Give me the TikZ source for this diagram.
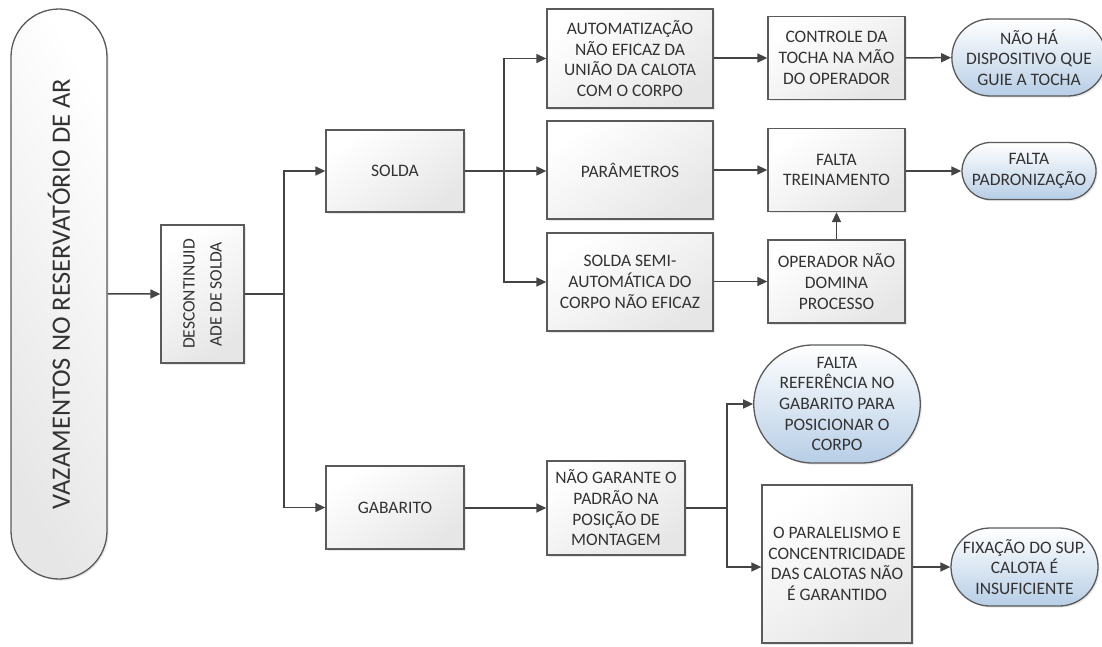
\documentclass[tikz,border=0pt]{standalone}
\usepackage{fontspec}
\setmainfont{Carlito}
\usetikzlibrary{arrows.meta,shapes.misc,shadows}

\definecolor{txt}{HTML}{333333}
\definecolor{edge}{HTML}{5A5A5A}
\definecolor{boxlo}{HTML}{E6E6E6}
\definecolor{bluelo}{HTML}{B7CEE6}
\definecolor{wire}{HTML}{444444}

\tikzset{
  base/.style={draw=edge, line width=1.3pt, inner sep=2pt, align=center,
    text=txt, font=\fontsize{17.5}{20.7}\selectfont,
    drop shadow={shadow xshift=1.6pt, shadow yshift=-1.6pt, opacity=0.18}},
  box/.style={base, rectangle, top color=white, bottom color=boxlo, shading angle=35},
  term/.style={base, rounded rectangle, top color=white, bottom color=bluelo},
  greyterm/.style={base, rounded rectangle, top color=white, bottom color=boxlo, shading angle=-60},
  arr/.style={draw=wire, line width=1.5pt, -{Triangle[length=10pt,width=9pt]}},
  wire/.style={draw=wire, line width=1.5pt}
}

\begin{document}
\begin{tikzpicture}[x=1pt,y=1pt]
\path[use as bounding box] (0,0) rectangle (1102,-646);

% root problem (vertical terminator)
\node[greyterm, rotate=90, minimum width=574pt, minimum height=96pt,
      font=\fontsize{26.5}{30}\selectfont] (vaz) at (59,-294)
  {VAZAMENTOS NO RESERVATÓRIO DE AR};

% first level
\node[box, rotate=90, minimum width=138pt, minimum height=83pt,
      font=\fontsize{17.5}{27}\selectfont] (desc) at (202.5,-294)
  {DESCONTINUID\\ADE DE SOLDA};

% second level
\node[box, minimum width=138pt, minimum height=82pt] (solda) at (395,-171) {SOLDA};
\node[box, minimum width=138pt, minimum height=83pt] (gab) at (395,-507.5) {GABARITO};

% welding branch
\node[box, minimum width=166pt, minimum height=99pt] (auto) at (630,-58.5)
  {AUTOMATIZAÇÃO\\NÃO EFICAZ DA\\UNIÃO DA CALOTA\\COM O CORPO};
\node[box, minimum width=166pt, minimum height=98pt] (param) at (630,-170)
  {PARÂMETROS};
\node[box, minimum width=166pt, minimum height=98pt] (semi) at (630,-282)
  {SOLDA SEMI-\\AUTOMÁTICA DO\\CORPO NÃO EFICAZ};

\node[box, minimum width=137pt, minimum height=83pt] (tocha) at (836.5,-58)
  {CONTROLE DA\\TOCHA NA MÃO\\DO OPERADOR};
\node[box, minimum width=137pt, minimum height=83pt] (trein) at (836.5,-170)
  {FALTA\\TREINAMENTO};
\node[box, minimum width=137pt, minimum height=83pt] (oper) at (836.5,-281.5)
  {OPERADOR NÃO\\DOMINA\\PROCESSO};

\node[term, minimum width=138pt, minimum height=77pt] (disp) at (1029,-57.5)
  {NÃO HÁ\\DISPOSITIVO QUE\\GUIE A TOCHA};
\node[term, minimum width=138pt, minimum height=57pt] (padr) at (1029,-171)
  {FALTA\\PADRONIZAÇÃO};

% jig branch
\node[box, minimum width=138pt, minimum height=94pt] (garante) at (616,-508)
  {NÃO GARANTE O\\PADRÃO NA\\POSIÇÃO DE\\MONTAGEM};
\node[term, minimum width=140pt, minimum height=118pt] (refer) at (837,-404)
  {FALTA\\REFERÊNCIA NO\\GABARITO PARA\\POSICIONAR O\\CORPO};
\node[box, minimum width=150pt, minimum height=158pt] (paral) at (837,-564)
  {O PARALELISMO E\\CONCENTRICIDADE\\DAS CALOTAS NÃO\\É GARANTIDO};
\node[term, minimum width=147pt, minimum height=78pt, inner sep=0pt] (fix) at (1024.5,-567)
  {FIXAÇÃO DO SUP.\\CALOTA É\\INSUFICIENTE};

% branch points
\coordinate (j1) at (284,-294);
\coordinate (j2) at (504,-171);
\coordinate (j3) at (727,-508);

% connectors
\draw[arr] (vaz) -- (desc);
\draw[wire] (desc) -- (j1);
\draw[arr] (j1) |- (solda);
\draw[arr] (j1) |- (gab);

\draw[wire] (solda.east) -- (j2);
\draw[arr] (j2) -- (j2 -| param.west);
\draw[arr] (j2) |- (auto.west);
\draw[arr] (j2) |- (semi.west);

\draw[arr] (auto.east |- tocha) -- (tocha);
\draw[arr] (param.east |- trein) -- (trein);
\draw[arr] (semi.east |- oper) -- (oper);
\draw[arr] (tocha) -- (disp);
\draw[arr] (trein.east |- padr) -- (padr);
\draw[arr] (oper) -- (trein);

\draw[arr] (gab.east |- garante) -- (garante);
\draw[wire] (garante) -- (j3);
\draw[arr] (j3) |- (refer.west);
\draw[arr] (j3) |- (paral.west |- fix);
\draw[arr] (paral.east |- fix) -- (fix);
\end{tikzpicture}
\end{document}
